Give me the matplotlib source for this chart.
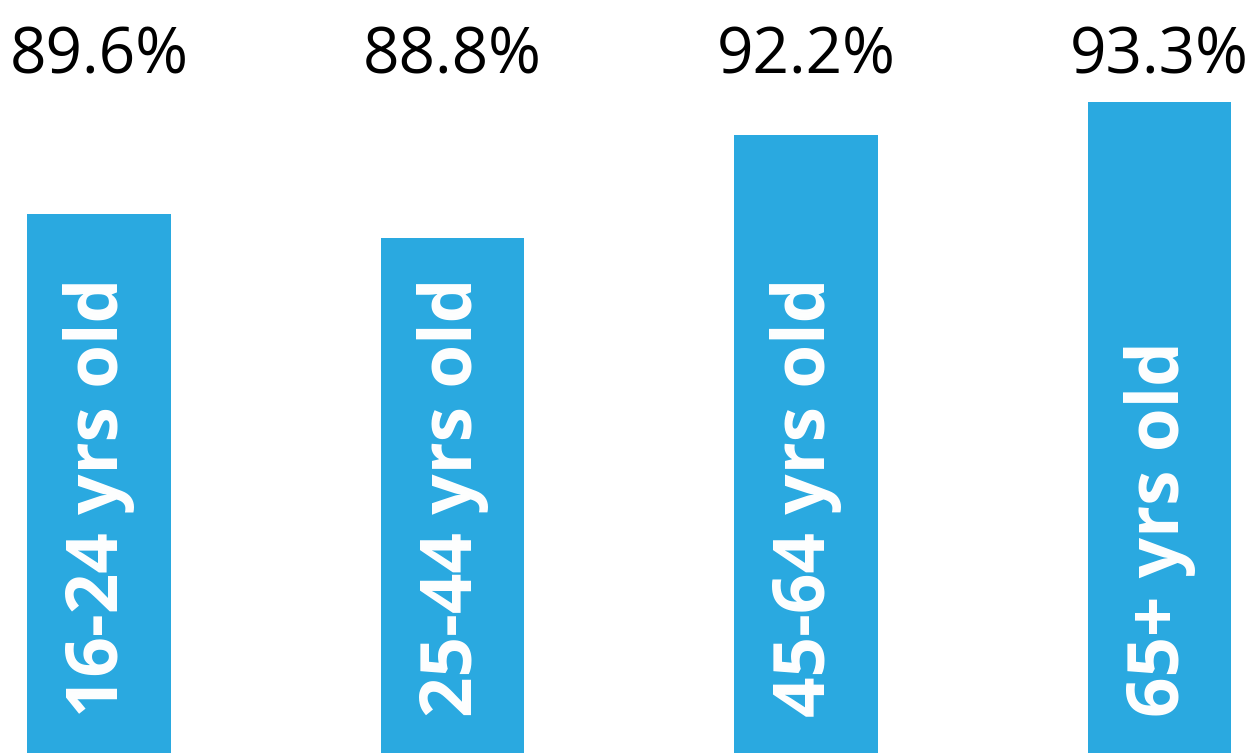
import matplotlib.pyplot as plt
import matplotlib.transforms as mtransforms

# data
groups = ['16-24 yrs old', '25-44 yrs old', '45-64 yrs old', '65+ yrs old']
values = [89.6, 88.8, 92.2, 93.3]
labels = ['89.6%', '88.8%', '92.2%', '93.3%']

bar_color = '#2AA9E0'

fig = plt.figure(figsize=(12.55, 7.53), dpi=100)
ax = fig.add_axes([0, 0, 1, 1])

x = list(range(len(groups)))
ax.bar(x, values, width=0.407, color=bar_color, bottom=0)

ax.set_xlim(-0.28, 3.27)
ax.set_ylim(71.8, 96.65)
ax.axis('off')

trans = mtransforms.blended_transform_factory(ax.transData, ax.transAxes)

# percentage labels on top row
for xi, lab in zip(x, labels):
    ax.text(xi, 0.902, lab, transform=trans, ha='center', va='baseline',
            fontsize=46, family='Open Sans', color='black')

# rotated group names inside bars
for xi, g in zip(x, groups):
    ax.text(xi, 0.048, g, transform=trans, rotation=90, ha='center', va='bottom',
            fontsize=51, family='Open Sans', fontweight='bold', color='white')

fig.savefig('out.png', dpi=100)
